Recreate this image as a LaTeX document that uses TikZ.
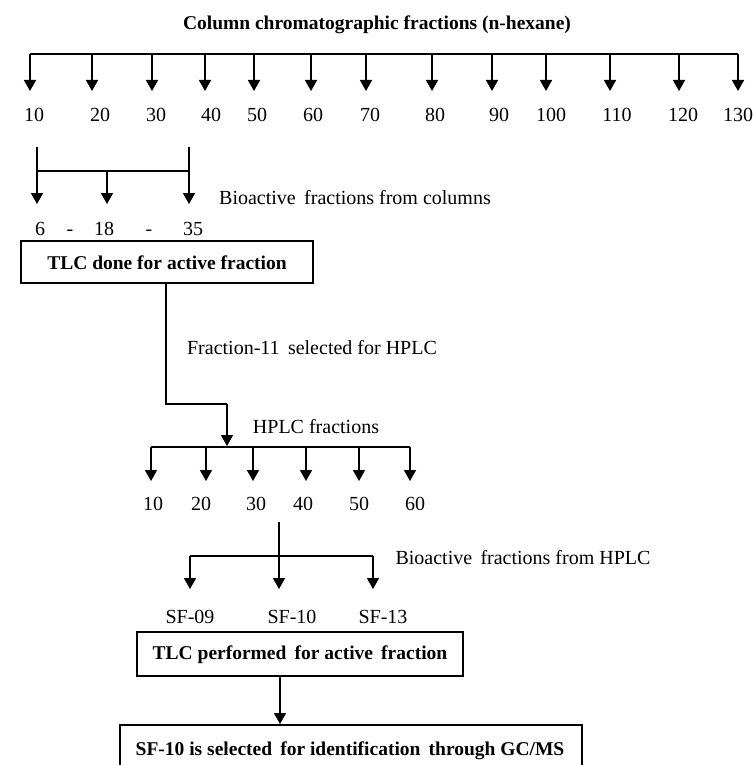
\documentclass[tikz,border=0pt]{standalone}
\usepackage{fontspec}
\setmainfont{Liberation Serif}
\usetikzlibrary{arrows.meta}
\begin{document}
\begin{tikzpicture}[x=1pt,y=-1pt,
  txt/.style={inner sep=0pt,font=\fontsize{20}{23}\selectfont},
  btxt/.style={inner sep=0pt,font=\fontsize{19.5}{23}\selectfont\bfseries},
  ln/.style={line width=1.6pt},
  arr/.style={line width=1.6pt,-{Triangle[width=12pt,length=11pt]}},
  boxs/.style={draw,line width=1.6pt}]
\useasboundingbox (0,0) rectangle (753,765);

% ---- title and first bar
\node[btxt] (title) at (377,25) {Column chromatographic fractions (n-hexane)};
\coordinate (barL) at (30,54);
\coordinate (barR) at (738,54);
\draw[ln] (barL) -- (barR);
\foreach \x/\lx/\lab [count=\i] in {30/34/10,92/100/20,152/156/30,205/211/40,254/257/50,311/313/60,366/370/70,432/435/80,492/499/90,546/551/100,610/617/110,679/683/120,738/738/130}{
  \coordinate (ct\i) at (\x,54);
  \coordinate (cb\i) at (\x,91);
  \draw[arr] (ct\i) -- (cb\i);
  \node[txt] (cl\i) at (\lx,115) {\lab};
}

% ---- bioactive fractions from columns
\coordinate (bL) at (37,147);
\coordinate (bR) at (189,147);
\coordinate (bLt) at (37,204);
\coordinate (bRt) at (189,204);
\coordinate (bM) at (107,171);
\coordinate (bMt) at (107,204);
\draw[arr] (bL) -- (bLt);
\draw[arr] (bR) -- (bRt);
\draw[ln] (37,171) -- (189,171);
\draw[arr] (bM) -- (bMt);
\node[txt] (bioc) at (355,198) {Bioactive\, fractions from columns};
\node[txt,anchor=base] (f6) at (40,235) {6};
\node[txt,anchor=base] (d1) at (70,235) {-};
\node[txt,anchor=base] (f18) at (104,235) {18};
\node[txt,anchor=base] (d2) at (149,235) {-};
\node[txt,anchor=base] (f35) at (193,235) {35};

% ---- TLC box 1
\node[boxs,minimum width=292pt,minimum height=42pt,inner sep=0pt] (tlc1) at (167,262) {};
\node[btxt] (tlc1t) at (167,263) {TLC done for active fraction};
\coordinate (k1) at (166,404);
\coordinate (k2) at (227,404);
\coordinate (k3) at (227,446);
\draw[ln] (tlc1.south -| k1) -- (k1) -- (k2);
\draw[arr] (k2) -- (k3);
\node[txt] (f11) at (312,348) {Fraction-11\, selected for HPLC};
\node[txt] (hplc) at (316,427) {HPLC fractions};

% ---- HPLC bar
\draw[ln] (151,447) -- (410,447);
\foreach \x/\lx/\lab [count=\i] in {151/153/10,206/201/20,253/256/30,306/303/40,359/359/50,410/415/60}{
  \coordinate (ht\i) at (\x,447);
  \coordinate (hb\i) at (\x,481);
  \draw[arr] (ht\i) -- (hb\i);
  \node[txt] (hl\i) at (\lx,504) {\lab};
}

% ---- bioactive fractions from HPLC
\coordinate (m0) at (279,522);
\coordinate (mt) at (279,589);
\coordinate (sL) at (190,556);
\coordinate (sR) at (373,556);
\coordinate (sLt) at (190,589);
\coordinate (sRt) at (373,589);
\draw[arr] (m0) -- (mt);
\draw[ln] (sLt |- sL) -- (sL) -- (sR);
\draw[arr] (sL) -- (sLt);
\draw[arr] (sR) -- (sRt);
\node[txt] (bioh) at (523,558) {Bioactive\, fractions from HPLC};
\node[txt] (sf9) at (190,617) {SF-09};
\node[txt] (sf10) at (292,617) {SF-10};
\node[txt] (sf13) at (383,617) {SF-13};

% ---- TLC box 2
\node[boxs,minimum width=326pt,minimum height=44pt,inner sep=0pt] (tlc2) at (300,654) {};
\node[btxt] (tlc2t) at (300,655) {TLC performed\, for active\, fraction};
\coordinate (a2) at (280,724);
\draw[arr] (tlc2.south -| a2) -- (a2);

% ---- final box
\draw[boxs] (120,725) rectangle (582,790);
\node[btxt] (fin) at (350,751) {SF-10 is selected\, for identification\, through GC/MS};
\end{tikzpicture}
\end{document}
